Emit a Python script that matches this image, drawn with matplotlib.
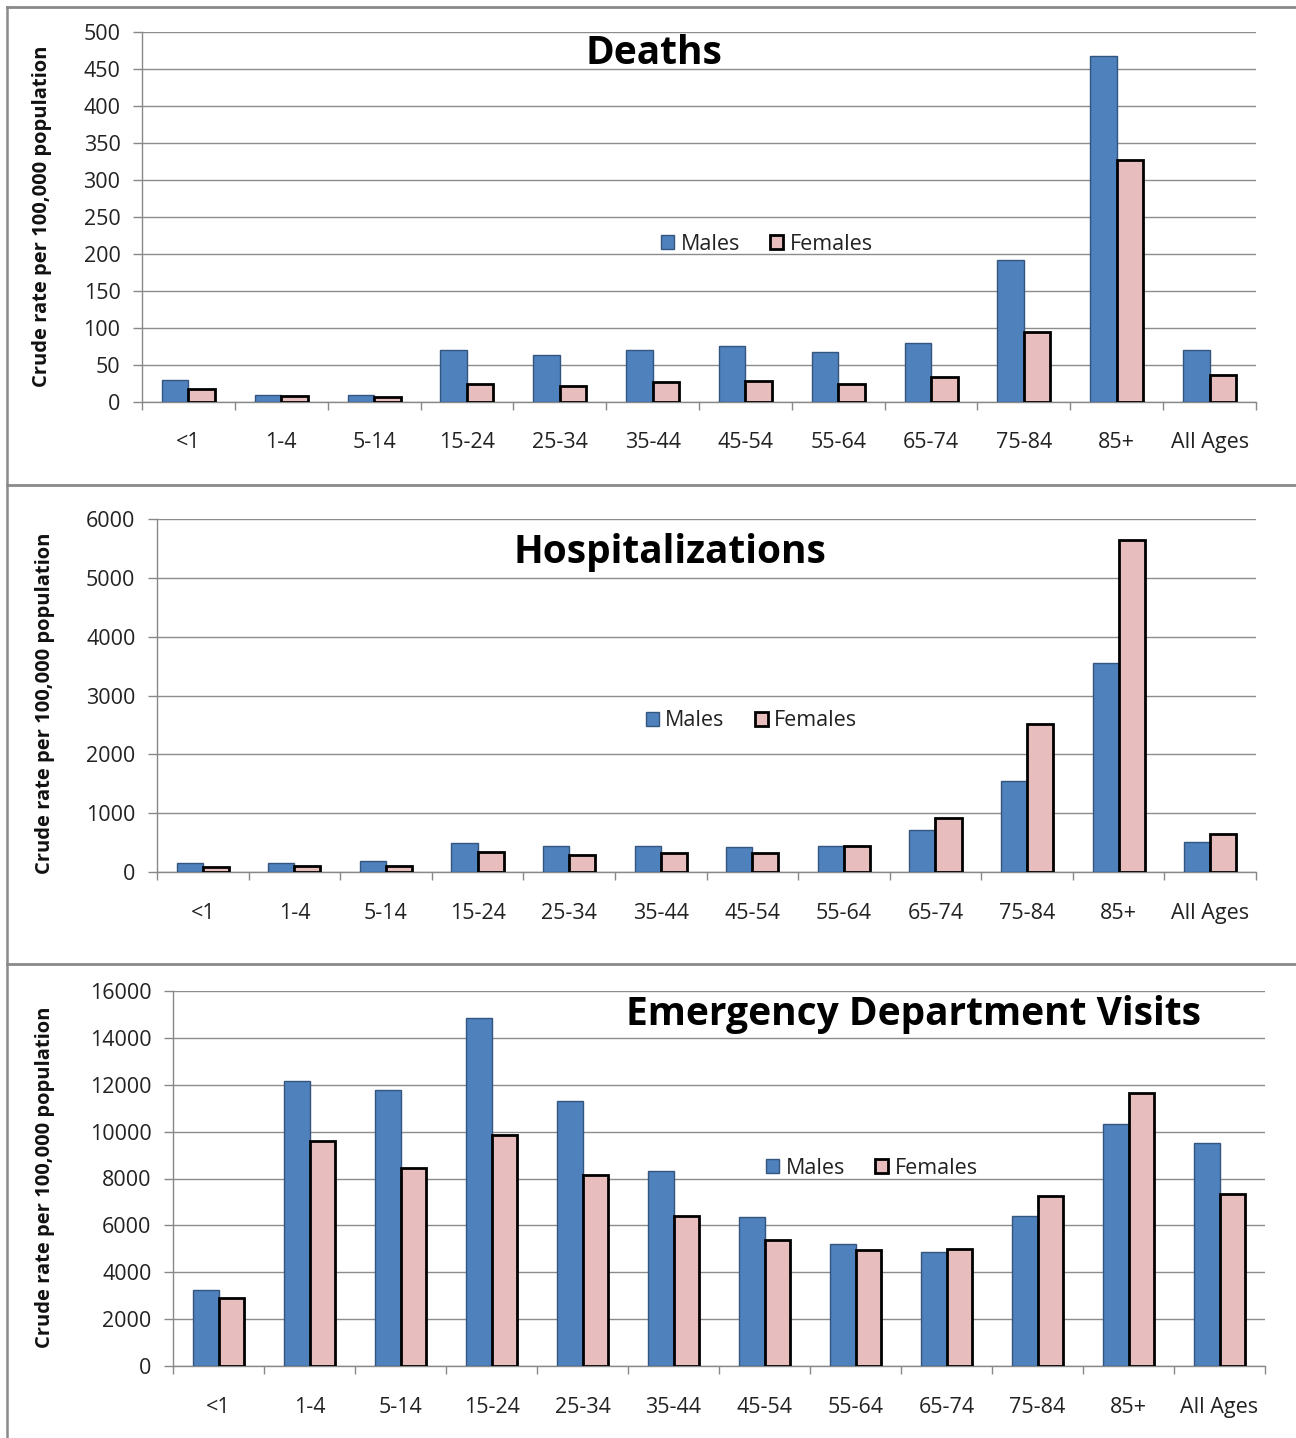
import matplotlib
matplotlib.use("Agg")
import matplotlib.pyplot as plt
from matplotlib.lines import Line2D
from matplotlib.patches import Patch
import numpy as np

plt.rcParams['font.family'] = ['Open Sans', 'DejaVu Sans']

categories = ["<1", "1-4", "5-14", "15-24", "25-34", "35-44", "45-54",
              "55-64", "65-74", "75-84", "85+", "All Ages"]

deaths_males = [30, 10, 9, 70, 63, 70, 76, 68, 80, 192, 468, 70]
deaths_females = [17, 8, 7, 25, 22, 27, 28, 25, 34, 95, 327, 37]

hosp_males = [150, 150, 190, 490, 450, 450, 430, 450, 710, 1545, 3560, 510]
hosp_females = [90, 110, 110, 340, 295, 315, 330, 440, 915, 2510, 5645, 645]

ed_males = [3240, 12160, 11770, 14840, 11300, 8320, 6360, 5210, 4860, 6400, 10320, 9510]
ed_females = [2900, 9600, 8440, 9850, 8150, 6400, 5370, 4950, 5000, 7250, 11650, 7330]

titles = ["Deaths", "Hospitalizations", "Emergency Department Visits"]
ylabel = "Crude rate per 100,000 population"

W, H = 1296, 1438
fig = plt.figure(figsize=(W / 100, H / 100), dpi=100)
fig.patch.set_facecolor("white")

MALE = "#4F81BD"
MALE_EDGE = "#34557F"
FEMALE = "#E8BDBD"

# (left, right, top, bottom) in pixels
boxes = [(142, 1256, 32, 402), (157, 1256, 519, 872), (173, 1265, 991, 1366)]
ylims = [(0, 500, 50), (0, 6000, 1000), (0, 16000, 2000)]
series = [(deaths_males, deaths_females), (hosp_males, hosp_females), (ed_males, ed_females)]
title_pos = [(654, 53), (670, 552), (913, 1014)]
legend_pos = [(0.561, 0.427), (0.541, 0.428), (0.640, 0.528)]
ylabel_x = [-0.081, -0.093, -0.108]
ylabel_y = [0.503, 0.477, 0.504]
xlabel_pad = [21.5, 22, 22]

x = np.arange(len(categories))
bw = 0.285

for i in range(3):
    l, r, t, b = boxes[i]
    ax = fig.add_axes([l / W, 1 - b / H, (r - l) / W, (b - t) / H])
    m, f = series[i]
    ax.bar(x - bw / 2, m, width=bw, color=MALE, edgecolor=MALE_EDGE, linewidth=1.0, zorder=3, label="Males")
    ax.bar(x + bw / 2, f, width=bw, color=FEMALE, edgecolor="black", linewidth=2.0, zorder=3, label="Females")
    lo, hi, step = ylims[i]
    ax.set_ylim(lo, hi)
    ax.set_yticks(np.arange(lo, hi + step / 2, step))
    ax.set_xlim(-0.5, len(categories) - 0.5)
    ax.set_xticks(np.arange(-0.5, len(categories), 1.0))
    ax.set_xticklabels([])
    ax.set_xticks(x, minor=True)
    ax.set_xticklabels(categories, minor=True)
    ax.tick_params(axis="x", which="major", length=6, width=1, color="#888888", direction="out")
    ax.tick_params(axis="x", which="minor", length=0, pad=xlabel_pad[i], labelsize=15.5, labelcolor="#222222")
    ax.tick_params(axis="y", length=6.5, width=1, color="#888888", pad=9, labelsize=15.5, labelcolor="#222222")
    ax.grid(axis="y", color="#8c8c8c", linewidth=1.0, zorder=0)
    ax.set_axisbelow(True)
    for s in ["top", "right"]:
        ax.spines[s].set_visible(False)
    for s in ["left", "bottom"]:
        ax.spines[s].set_color("#888888")
        ax.spines[s].set_linewidth(1.0)
    ax.set_ylabel(ylabel, fontsize=14.5, fontweight="bold", color="#111111")
    ax.yaxis.set_label_coords(ylabel_x[i], ylabel_y[i])
    handles = [Patch(facecolor=MALE, edgecolor=MALE_EDGE, linewidth=1.0, label="Males"),
               Patch(facecolor=FEMALE, edgecolor="black", linewidth=2.0, label="Females")]
    ax.legend(handles=handles, loc="center", bbox_to_anchor=legend_pos[i], ncol=2, frameon=False,
              fontsize=15.5, handlelength=0.6, handleheight=0.6, handletextpad=0.3, columnspacing=1.4,
              labelcolor="#222222")
    tx, ty = title_pos[i]
    fig.text(tx / W, 1 - ty / H, titles[i], ha="center", va="center", fontsize=28, fontweight="bold",
             color="black")

# panel frames
frame_color = "#8a8a8a"
fig.add_artist(Line2D([7 / W, 7 / W], [1 - 7 / H, 0], transform=fig.transFigure, color=frame_color, linewidth=1.8))
for yy in [7, 485, 964]:
    fig.add_artist(Line2D([7 / W, 1], [1 - yy / H, 1 - yy / H], transform=fig.transFigure,
                          color=frame_color, linewidth=2.0))

fig.savefig("out.png", dpi=100, facecolor="white")
